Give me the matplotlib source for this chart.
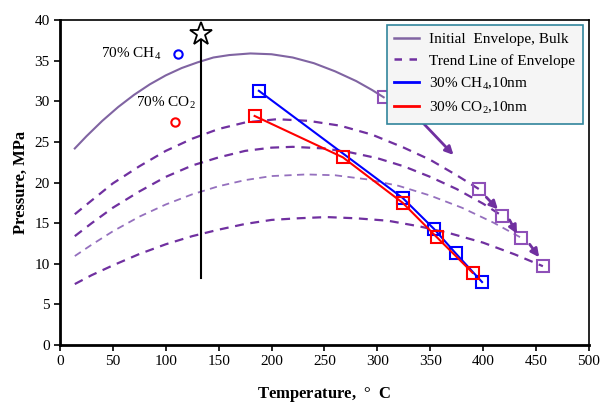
import matplotlib
matplotlib.use("Agg")
import matplotlib.pyplot as plt
from matplotlib.lines import Line2D

plt.rcParams['font.family'] = ['Liberation Serif', 'DejaVu Serif']
plt.rcParams['mathtext.fontset'] = 'custom'
plt.rcParams['mathtext.rm'] = 'Liberation Serif'

# initial (bulk) envelope
env_T = [14, 25, 40, 55, 70, 85, 100, 115, 130, 145, 160, 180, 200, 220, 240, 260, 280, 295, 306]
env_P = [24.2, 25.7, 27.6, 29.3, 30.8, 32.1, 33.2, 34.1, 34.8, 35.4, 35.7, 35.9, 35.8, 35.4, 34.7,
         33.7, 32.5, 31.4, 30.5]

# trend lines of the envelope
tr1_T = [14, 30, 50, 75, 100, 125, 150, 175, 205, 235, 265, 295, 325, 350, 375, 396]
tr1_P = [16.1, 17.8, 19.9, 22.0, 23.9, 25.4, 26.6, 27.4, 27.8, 27.6, 27.0, 25.9, 24.3, 22.8, 20.9, 19.2]
tr2_T = [14, 30, 50, 75, 100, 125, 150, 175, 200, 220, 250, 275, 300, 325, 350, 375, 400, 418]
tr2_P = [13.4, 15.0, 16.9, 18.9, 20.7, 22.1, 23.1, 23.9, 24.3, 24.4, 24.2, 23.7, 23.0, 22.0, 20.7, 19.2, 17.4, 15.9]
tr3_T = [14, 30, 50, 75, 100, 125, 150, 175, 200, 233, 260, 290, 320, 350, 380, 410, 436]
tr3_P = [10.95, 12.35, 14.0, 15.8, 17.3, 18.55, 19.55, 20.3, 20.8, 21.0, 20.9, 20.4, 19.6, 18.4, 16.9, 15.05, 13.2]
tr4_T = [14, 30, 50, 75, 100, 125, 150, 175, 200, 225, 252, 280, 310, 340, 370, 400, 430, 456.5]
tr4_P = [7.5, 8.6, 9.8, 11.2, 12.4, 13.4, 14.2, 14.9, 15.4, 15.6, 15.75, 15.6, 15.3, 14.6, 13.7, 12.6, 11.15, 9.7]

# critical points of the envelopes
crit_T = [306, 396, 418, 436, 456.5]
crit_P = [30.5, 19.2, 15.9, 13.2, 9.7]

# 10 nm pore results
ch4_T = [188, 324, 353.5, 374, 399]
ch4_P = [31.3, 18.1, 14.3, 11.3, 7.75]
co2_T = [184, 267.5, 324, 356, 390]
co2_P = [28.2, 23.1, 17.5, 13.3, 8.9]

# 70% mixtures
ch4_70 = (111.5, 35.8)
co2_70 = (109, 27.4)

# vertical line with star
star_T = 133
star_P = [8.25, 38.3]

# arrows (start T, start P, end T, end P)
arrows = [(342, 27.5, 372, 23.4),
          (403, 18.2, 414, 16.7),
          (425, 15.4, 432, 13.7),
          (444, 12.4, 453, 10.8)]

dark_purple = '#7030A0'
purple = '#8064A2'
light_purple = '#9570BE'

fig = plt.figure(figsize=(6.04, 4.03), dpi=100)
ax = fig.add_axes([0.0993, 0.144, 0.8757, 0.806])

ax.plot(env_T, env_P, color=purple, lw=1.5)
ax.plot(tr1_T, tr1_P, color=dark_purple, lw=1.6, ls=(0, (4, 3)))
ax.plot(tr2_T, tr2_P, color=dark_purple, lw=1.6, ls=(0, (4, 3)))
ax.plot(tr3_T, tr3_P, color=light_purple, lw=1.3, ls=(0, (4, 3)))
ax.plot(tr4_T, tr4_P, color=dark_purple, lw=1.6, ls=(0, (4, 3)))

ax.plot(crit_T, crit_P, ls='none', marker='s', ms=8, mfc='none', mec='#8E50B8', mew=1.5)

ax.plot(ch4_T, ch4_P, color='#0000FF', lw=1.5, marker='s', ms=8, mfc='none', mew=1.5)
ax.plot(co2_T, co2_P, color='#FF0000', lw=1.5, marker='s', ms=8, mfc='none', mew=1.5)

ax.plot(*ch4_70, marker='o', ms=6, mfc='none', mec='#0000FF', mew=1.5)
ax.plot(*co2_70, marker='o', ms=6, mfc='none', mec='#FF0000', mew=1.5)
ax.text(96, 35.9, '70% CH$_4$', ha='right', va='center', fontsize=11)
ax.text(128, 29.9, '70% CO$_2$', ha='right', va='center', fontsize=11)

ax.plot([star_T, star_T], star_P, color='black', lw=1.5)
ax.plot(star_T, star_P[1], marker='*', ms=17, mfc='white', mec='black', mew=1.3)

for x0, y0, x1, y1 in arrows:
    ax.annotate('', xy=(x1, y1), xytext=(x0, y0),
                arrowprops=dict(arrowstyle='-|>', color=dark_purple, lw=2,
                                mutation_scale=12, shrinkA=0, shrinkB=0))

ax.set_xlim(0, 500)
ax.set_ylim(0, 40)
ax.set_xticks(range(0, 501, 50))
ax.set_yticks(range(0, 41, 5))
ax.tick_params(labelsize=11, direction='out', length=4, width=1.2)
for s in ax.spines.values():
    s.set_linewidth(1.2)
ax.spines['left'].set_linewidth(2)
ax.spines['bottom'].set_linewidth(2)

ax.set_xlabel('Temperature,  $\\degree$  C', fontsize=12, fontweight='bold', labelpad=12)
ax.set_ylabel('Pressure, MPa', fontsize=12, fontweight='bold', labelpad=4)

handles = [Line2D([], [], color=purple, lw=1.8),
           Line2D([], [], color=dark_purple, lw=1.8, ls=(0, (3, 3))),
           Line2D([], [], color='#0000FF', lw=2),
           Line2D([], [], color='#FF0000', lw=2)]
labels = ['Initial  Envelope, Bulk', 'Trend Line of Envelope',
          '30% CH$_4$,10nm', '30% CO$_2$,10nm']
leg = ax.legend(handles, labels, loc='upper right', bbox_to_anchor=(0.989, 0.985),
                borderaxespad=0, fontsize=11,
                frameon=True, fancybox=False, handlelength=1.6, borderpad=0.5,
                labelspacing=0.5, handletextpad=0.7)
leg.get_frame().set_edgecolor('#31859C')
leg.get_frame().set_facecolor('#F5F5F5')
leg.get_frame().set_linewidth(1.2)
leg.get_frame().set_alpha(1)

fig.savefig('out.png', dpi=100)
